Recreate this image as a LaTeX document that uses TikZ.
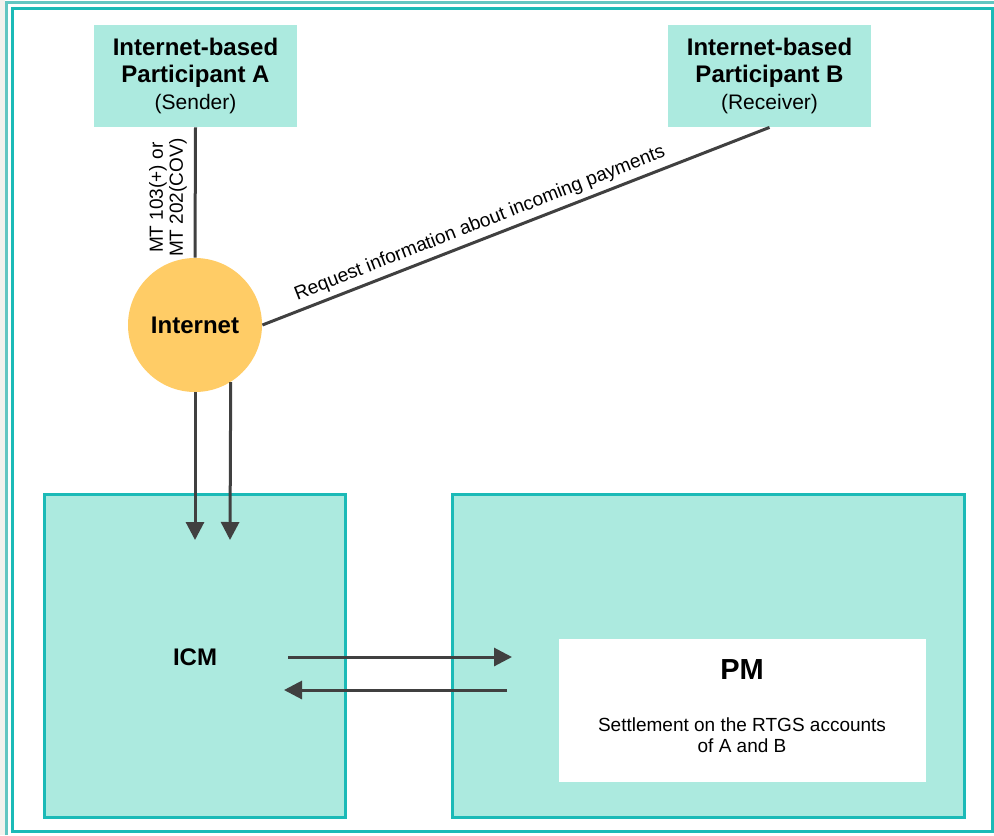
\documentclass[tikz,border=0pt]{standalone}
\usepackage{fontspec}
\setmainfont{Liberation Sans}
\usetikzlibrary{arrows.meta,calc}
\definecolor{mint}{HTML}{ACEADF}
\definecolor{tealD}{HTML}{1BBAB7}
\definecolor{tealL}{HTML}{62C6C2}
\definecolor{grayS}{HTML}{F2F2EE}
\definecolor{linec}{HTML}{404040}
\definecolor{sun}{HTML}{FFCC66}
\tikzset{
  pbox/.style={fill=mint, minimum width=101.5pt, minimum height=51pt, align=center, inner sep=0pt},
  sysbox/.style={fill=mint, draw=tealD, line width=1.5pt, inner sep=0pt},
  conn/.style={draw=linec, line width=1.5pt},
  arr/.style={draw=linec, line width=1.5pt, -{Triangle[length=9pt,width=9pt]}},
  ttl/.style={font=\fontsize{12}{13.5}\selectfont\bfseries},
}
\begin{document}
\begin{tikzpicture}[x=0.5pt,y=-0.5pt]
\useasboundingbox (0,0) rectangle (994,835);
% frame
\fill[grayS] (0,0) rectangle (5,835);
\draw[tealL, line width=1.5pt] (6.5,835) -- (6.5,2) -- (994,2);
\draw[tealD, line width=1.5pt] (12.5,8.5) rectangle (992,831.5);
% participants
\node[pbox, ttl] (A) at (195.5,76) {Internet-based\\Participant A\\{\mdseries\fontsize{10.5}{13.5}\selectfont (Sender)}};
\node[pbox, ttl] (B) at (769.5,76) {Internet-based\\Participant B\\{\mdseries\fontsize{10.5}{13.5}\selectfont (Receiver)}};
% internet
\node[circle, fill=sun, minimum size=67pt, inner sep=0pt, font=\fontsize{12}{14}\selectfont\bfseries] (inet) at (195,325) {Internet};
% systems
\node[sysbox, minimum width=150.5pt, minimum height=161.5pt] (ICM) at (194.5,656) {};
\node[font=\fontsize{12}{14}\selectfont\bfseries] (icmlbl) at (195,657) {ICM};
\node[sysbox, minimum width=256pt, minimum height=161.5pt] (PMo) at (708.5,656) {};
\node[fill=white, minimum width=183.5pt, minimum height=71.5pt, inner sep=0pt] (PMi) at (742.5,710.5) {};
\node[font=\fontsize{14.5}{16}\selectfont\bfseries] (pmlbl) at (742,670) {PM};
\node[align=center, font=\fontsize{9.5}{10.5}\selectfont] (settle) at (742,735) {Settlement on the RTGS accounts\\of A and B};
% connectors
\draw[conn] (A.south) -- node[pos=0.54, rotate=90, anchor=south, align=center, inner sep=3.5pt, font=\fontsize{9.5}{10}\selectfont] {MT 103(+) or\\MT 202(COV)} (inet.north);
\draw[conn] (inet.east) -- node[pos=0.44, sloped, above, inner sep=2.5pt, font=\fontsize{9.6}{11}\selectfont] {Request information about incoming payments} (B.south);
\coordinate (t1) at (195,540);
\coordinate (t2) at (230,540);
\draw[arr] (inet.south) -- (t1);
\draw[arr] (inet.-58) -- (t2);
\coordinate (r1) at (288,657);
\coordinate (r2) at (512,657);
\coordinate (l1) at (507,690);
\coordinate (l2) at (284,690);
\draw[arr] (r1) -- (r2);
\draw[arr] (l1) -- (l2);
\end{tikzpicture}
\end{document}
